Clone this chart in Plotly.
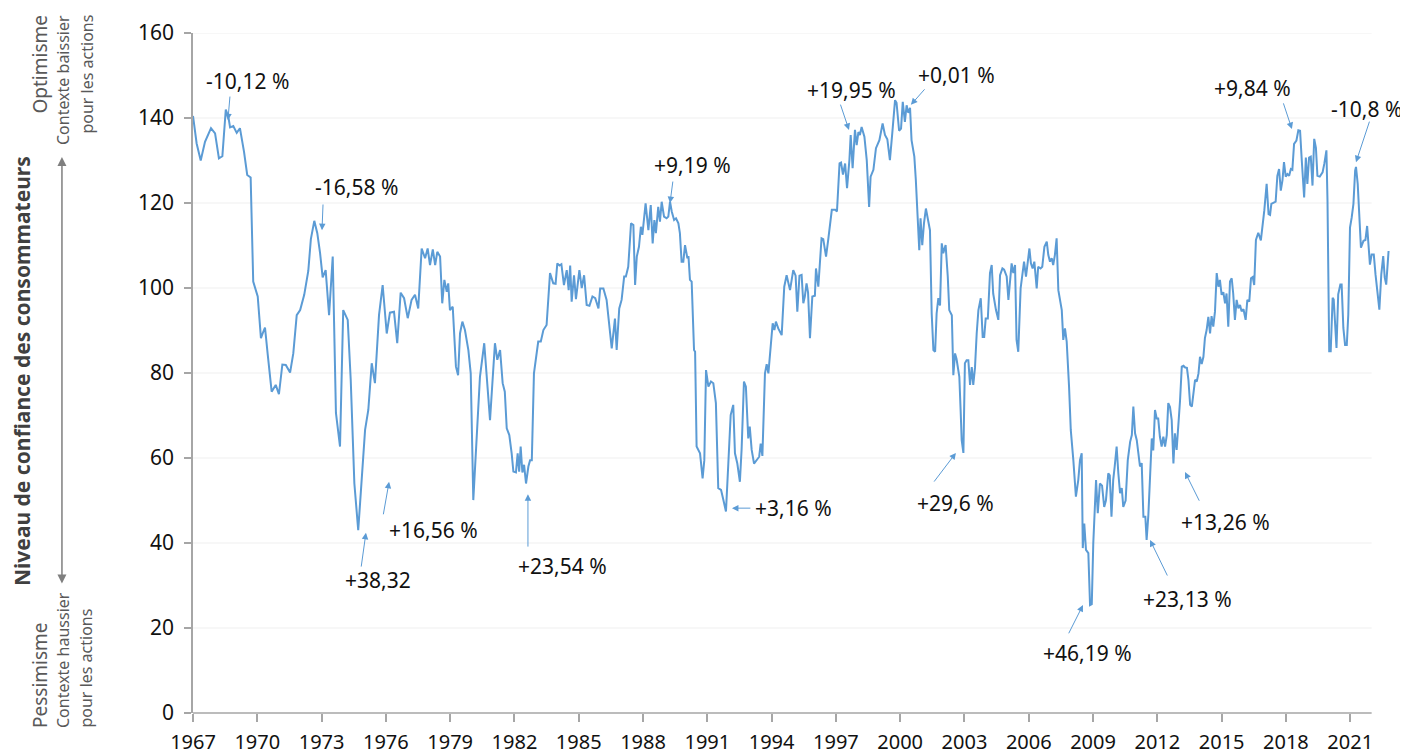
import plotly.graph_objects as go

# ---------------- data ----------------
years = [
    1967.00,1967.17,1967.36,1967.56,1967.84,1968.03,1968.21,1968.37,1968.53,1968.65,
    1968.73,1968.88,1969.04,1969.19,1969.38,1969.53,1969.69,1969.81,1970.02,1970.17,
    1970.28,1970.36,1970.49,1970.67,1970.86,1971.01,1971.17,1971.33,1971.53,1971.68,
    1971.84,1972.00,1972.19,1972.38,1972.50,1972.66,1972.80,1972.93,1973.05,1973.19,
    1973.35,1973.52,1973.67,1973.86,1974.01,1974.22,1974.36,1974.53,1974.71,1974.87,
    1975.03,1975.18,1975.34,1975.49,1975.68,1975.85,1976.04,1976.19,1976.38,1976.53,
    1976.69,1976.85,1977.02,1977.20,1977.36,1977.51,1977.67,1977.83,1977.95,1978.06,
    1978.19,1978.30,1978.40,1978.53,1978.63,1978.73,1978.84,1978.91,1978.99,1979.12,
    1979.27,1979.37,1979.46,1979.57,1979.69,1979.85,1979.96,1980.08,1980.24,1980.39,
    1980.59,1980.70,1980.86,1980.97,1981.09,1981.20,1981.33,1981.45,1981.55,1981.64,
    1981.76,1981.87,1981.95,1982.07,1982.15,1982.22,1982.29,1982.37,1982.45,1982.54,
    1982.65,1982.73,1982.81,1982.91,1983.00,1983.11,1983.23,1983.35,1983.50,1983.66,
    1983.81,1983.92,1984.00,1984.10,1984.19,1984.31,1984.44,1984.53,1984.60,1984.67,
    1984.78,1984.87,1985.03,1985.14,1985.25,1985.37,1985.50,1985.64,1985.77,1985.92,
    1986.00,1986.15,1986.30,1986.41,1986.54,1986.69,1986.77,1986.89,1987.00,1987.12,
    1987.20,1987.31,1987.44,1987.55,1987.63,1987.71,1987.81,1987.90,1987.97,1988.12,
    1988.25,1988.36,1988.45,1988.53,1988.60,1988.71,1988.79,1988.87,1988.98,1989.10,
    1989.18,1989.26,1989.34,1989.45,1989.54,1989.65,1989.72,1989.80,1989.88,1989.96,
    1990.07,1990.12,1990.19,1990.27,1990.38,1990.43,1990.50,1990.66,1990.78,1990.86,
    1990.94,1991.05,1991.17,1991.28,1991.40,1991.51,1991.64,1991.75,1991.87,1991.98,
    1992.09,1992.21,1992.29,1992.40,1992.52,1992.60,1992.71,1992.80,1992.91,1992.98,
    1993.07,1993.18,1993.30,1993.42,1993.49,1993.57,1993.69,1993.77,1993.85,1993.92,
    1994.05,1994.13,1994.20,1994.31,1994.47,1994.59,1994.70,1994.86,1995.01,1995.12,
    1995.20,1995.30,1995.40,1995.48,1995.55,1995.63,1995.70,1995.79,1995.90,1996.02,
    1996.07,1996.18,1996.33,1996.41,1996.54,1996.65,1996.81,1996.97,1997.05,1997.17,
    1997.24,1997.33,1997.43,1997.52,1997.63,1997.69,1997.78,1997.89,1997.97,1998.05,
    1998.12,1998.20,1998.33,1998.44,1998.55,1998.62,1998.75,1998.87,1999.03,1999.18,
    1999.29,1999.40,1999.52,1999.63,1999.76,1999.83,1999.95,2000.04,2000.12,2000.22,
    2000.30,2000.38,2000.46,2000.53,2000.66,2000.73,2000.82,2000.89,2000.95,2001.03,
    2001.11,2001.20,2001.30,2001.39,2001.47,2001.55,2001.63,2001.70,2001.78,2001.86,
    2001.94,2002.01,2002.12,2002.22,2002.29,2002.41,2002.48,2002.56,2002.63,2002.76,
    2002.82,2002.87,2002.95,2003.02,2003.10,2003.18,2003.26,2003.34,2003.41,2003.49,
    2003.57,2003.65,2003.76,2003.85,2003.92,2003.99,2004.09,2004.19,2004.27,2004.34,
    2004.47,2004.58,2004.66,2004.77,2004.85,2004.97,2005.05,2005.13,2005.20,2005.28,
    2005.36,2005.43,2005.51,2005.62,2005.72,2005.78,2005.87,2005.95,2006.03,2006.10,
    2006.18,2006.26,2006.37,2006.44,2006.55,2006.63,2006.73,2006.84,2006.91,2006.99,
    2007.07,2007.14,2007.22,2007.30,2007.38,2007.54,2007.61,2007.69,2007.77,2007.88,
    2007.96,2008.08,2008.20,2008.31,2008.39,2008.47,2008.52,2008.59,2008.67,2008.78,
    2008.86,2008.94,2009.01,2009.14,2009.22,2009.32,2009.42,2009.52,2009.60,2009.71,
    2009.78,2009.86,2009.94,2010.01,2010.10,2010.18,2010.26,2010.34,2010.41,2010.52,
    2010.62,2010.73,2010.81,2010.88,2010.96,2011.04,2011.11,2011.19,2011.27,2011.35,
    2011.44,2011.50,2011.58,2011.66,2011.74,2011.81,2011.89,2011.97,2012.04,2012.12,
    2012.20,2012.28,2012.36,2012.44,2012.51,2012.59,2012.67,2012.75,2012.82,2012.90,
    2012.98,2013.06,2013.14,2013.22,2013.30,2013.38,2013.45,2013.53,2013.61,2013.68,
    2013.76,2013.84,2013.92,2013.99,2014.07,2014.15,2014.22,2014.30,2014.38,2014.46,
    2014.53,2014.61,2014.69,2014.77,2014.85,2014.92,2015.00,2015.08,2015.16,2015.23,
    2015.31,2015.39,2015.47,2015.54,2015.62,2015.70,2015.78,2015.86,2015.93,2016.02,
    2016.12,2016.20,2016.29,2016.37,2016.45,2016.52,2016.60,2016.71,2016.83,2016.99,
    2017.10,2017.19,2017.26,2017.32,2017.44,2017.52,2017.60,2017.68,2017.76,2017.84,
    2017.91,2017.99,2018.07,2018.15,2018.23,2018.30,2018.38,2018.49,2018.58,2018.66,
    2018.74,2018.85,2018.93,2019.00,2019.08,2019.16,2019.24,2019.32,2019.40,2019.47,
    2019.58,2019.71,2019.79,2019.89,2019.94,2020.02,2020.09,2020.18,2020.23,2020.29,
    2020.36,2020.44,2020.54,2020.60,2020.68,2020.76,2020.84,2020.91,2020.99,2021.07,
    2021.15,2021.23,2021.27,2021.35,2021.43,2021.50,2021.62,2021.71,2021.79,2021.85,
    2021.92,2022.00,2022.10,2022.18,2022.29,2022.36,2022.45,2022.54,2022.61,2022.68,
    2022.79,
]

confidence = [
    140.5,134,130,134.4,137.6,136.4,130.5,131,142,140.3,
    137.8,138.1,136.5,137.6,132.1,126.6,126,101.5,98,88.2,
    89.7,90.7,84.2,75.6,77.2,75,82,81.9,80.1,84.6,
    93.6,94.8,98.4,104,111.5,115.8,112.9,108.2,102.5,104.2,
    93.6,107.4,70.6,62.7,94.8,92.5,78.4,54,43,54,
    66.6,71.3,82.3,77.6,93.6,100.7,89.3,94.2,94.4,87,
    98.9,97.6,92.9,97.2,98.4,95.2,109.3,107,109.3,105.4,
    109.1,105.4,108.5,107.4,96.4,101.9,99.1,101.1,94.8,95.6,
    81.5,79.5,89.3,92.1,90.1,85.4,79.9,50.1,65,79.1,
    87,79.9,68.9,77.6,87,83.1,85.4,77.6,75.6,67,
    65.4,61.1,56.8,56.6,61.1,56.8,62.7,56.6,58.4,54,
    58,59.5,59.5,79.9,83,87.4,87.4,90.1,91.3,103.5,
    101.1,101,105.8,105.3,105.6,100.7,104.2,99.5,105.3,96.8,
    103,97.4,104.2,100,103,96,95.8,98,97.6,95.2,
    99.9,99.9,97.2,91.7,85.8,92.8,85.4,95.2,97.2,102.7,
    102.7,105,115.2,114.8,100.7,107.4,109.7,114.4,112.5,119.9,
    113.6,119.5,110.5,116,112.9,119.1,115.6,120.3,116.8,116.4,
    116.8,120.3,118,116,116.4,115.2,112.9,106.2,106.2,110.1,
    107,107.5,101.9,101.5,85.4,85,62.7,61.1,55.2,59.5,
    80.7,76.8,78,77.6,72.9,52.9,52.5,50.1,47.4,58.7,
    70.1,72.5,61.1,58.7,54.4,62,78,76.8,64.6,67.4,
    61.9,58.7,59.5,60.3,63.4,60.5,79.9,82.1,79.9,84.6,
    91.7,90.1,92.1,90.5,88.9,100.3,103,99.5,104.2,102.9,
    94.4,102.9,103.1,96.4,98,101.1,99,88.2,98,98.2,
    104.6,100.3,111.7,111.5,107.4,111.7,118.4,118.4,118,129.3,
    129.5,126.7,129.3,123.5,130.1,136,128.2,137.2,133.6,136.7,
    136,137.9,135.6,130.1,119.1,126.2,127.8,132.9,134.8,138.7,
    136,135,130.1,136.4,144.2,143.6,137,137.5,143.8,139.1,
    143,141.2,142.4,134.8,130.9,125.4,116,108.9,116.4,110.1,
    115.2,118.7,116,113.6,94,85.4,85,94,97.6,95.9,
    110.5,108.2,110.1,102.7,94.8,93.6,79.5,84.6,83.3,79.1,
    71.3,64.2,61.2,82.3,83,83,77.2,81.4,77.2,81.2,
    89.3,94.8,97.6,88.5,88.5,92.8,92.8,103.5,105.4,98.7,
    94.8,92.5,103,104.6,104.3,102.7,97.2,101.5,105.8,103.5,
    105.4,87.8,85,99.9,104.6,106.2,102.7,106.2,109.3,105.8,
    104.6,106.2,99.9,105,104.6,105,109.7,110.9,107.8,106.2,
    107,105.4,107.8,111.7,99.5,94.8,87.8,90.5,87.4,76.8,
    66.6,59.5,50.9,54.8,59.5,61.1,38.8,44.6,38.4,37.6,
    25.4,25.6,39.9,54.8,47,54,53.5,48.5,50,56.4,
    55.9,46.2,54.8,58,62.7,56.4,51.7,52.9,48.5,50,
    59.5,63.8,65.4,72.1,65.8,64.2,61.1,58,58.8,46.2,
    46.2,40.7,46.5,56.4,64.6,61.8,71.3,69.3,69.3,65,
    62.7,65,62.7,65.4,72.9,72,68.9,58.7,65.8,61.9,
    67.4,73.6,81.5,81.7,81.3,81.2,78.4,72.5,72.1,75.2,
    78.4,78,79.9,83.8,82.1,83.8,88.2,90.1,93.2,89.3,
    93.4,90.9,94.5,103.5,100.3,101.9,98.4,99,96.4,98.7,
    90.9,101.5,102.3,98.7,92.5,97.2,95.2,96,94.5,95,
    92.5,97.2,96.8,102.3,102.6,100.7,111.3,113,111.2,118.2,
    124.5,117.4,117.2,119.8,120.1,120.3,126.4,128,122.9,125.4,
    129.6,126.2,126.8,126.4,128,127.8,133.9,134.7,137.1,137,
    130,121.3,130.7,124.5,130.7,130.9,124.1,135.1,133,126.4,
    126.2,127.2,129.2,132.4,120.5,85.1,85.1,97.7,97.3,90.6,
    85.9,98.5,100.8,100.8,90.6,86.6,86.6,93.7,114.2,116.6,
    119.8,127.6,128.5,124.5,115.8,109.5,111.1,111.3,114.6,111.1,
    105.5,107.9,107.9,103.2,97.6,94.9,103.2,107.5,102.5,100.8,
    108.7,
]
assert len(years) == len(confidence), (len(years), len(confidence))

x_ticks = list(range(1967, 2022, 3))
y_ticks = [0, 20, 40, 60, 80, 100, 120, 140, 160]

# annotation labels: text, text position, arrow tail, arrow tip (data coords)
labels = ["-10,12 %", "-16,58 %", "+38,32", "+16,56 %", "+23,54 %", "+9,19 %",
          "+3,16 %", "+19,95 %", "+0,01 %", "+29,6 %", "+46,19 %", "+23,13 %",
          "+13,26 %", "+9,84 %", "-10,8 %"]
label_x = [1969.55, 1974.61, 1975.63, 1978.20, 1984.22, 1990.33, 1995.00, 1997.75,
           2002.65, 2002.56, 2008.72, 2013.43, 2015.16, 2016.42, 2021.76]
label_y = [148.7, 123.8, 31.3, 43.1, 34.6, 128.9, 48.2, 146.6, 150.1, 49.4, 14.1,
           26.8, 44.9, 147.1, 142.1]
tail_x = [1968.73, 1973.07, 1974.84, 1975.87, 1982.63, 1989.40, 1993.08, 1997.19,
          2001.20, 2001.53, 2007.83, 2012.50, 2013.99, 2017.86, 2021.92]
tail_y = [145.4, 120.0, 34.1, 46.4, 38.8, 125.4, 48.2, 143.5, 147.1, 54.1, 18.4,
          32.0, 49.6, 143.8, 139.5]
tip_x = [1968.63, 1973.02, 1975.07, 1976.15, 1982.63, 1989.26, 1992.15, 1997.61,
         2000.50, 2002.60, 2008.53, 2011.66, 2013.29, 2018.28, 2021.27]
tip_y = [139.5, 113.6, 42.4, 54.4, 51.5, 120.0, 48.2, 137.2, 143.1, 61.2, 25.4,
         40.7, 56.7, 137.4, 129.6]

X_START = 1967
X_END = 2022.95
GRID_END = 2022.0

LINE_BLUE = "#5b9bd5"
AXIS_GRAY = "#a6a6a6"
FONT = "Noto Sans"

fig = go.Figure()
fig.add_trace(go.Scatter(
    x=years, y=confidence, mode="lines",
    line=dict(color=LINE_BLUE, width=2),
    hoverinfo="skip", showlegend=False,
))

# gridlines (stop at GRID_END like the reference)
for v in y_ticks[1:]:
    fig.add_shape(type="line", xref="x", yref="y", x0=X_START, x1=GRID_END,
                  y0=v, y1=v, line=dict(color="#efefef", width=1), layer="below")
# x axis line
fig.add_shape(type="line", xref="x", yref="paper", x0=X_START, x1=GRID_END,
              y0=0, y1=0, line=dict(color=AXIS_GRAY, width=1.5), layer="above")

annotations = []
for t, lx, ly in zip(labels, label_x, label_y):
    annotations.append(dict(x=lx, y=ly, xref="x", yref="y", text=t, showarrow=False,
                            font=dict(family=FONT, size=21, color="#111111"),
                            xanchor="center", yanchor="middle"))
for ax_, ay_, tx, ty in zip(tail_x, tail_y, tip_x, tip_y):
    annotations.append(dict(x=tx, y=ty, xref="x", yref="y", ax=ax_, ay=ay_,
                            axref="x", ayref="y", text="", showarrow=True,
                            arrowhead=2, arrowsize=1.3, arrowwidth=1,
                            arrowcolor=LINE_BLUE, standoff=0, startstandoff=0))

SIDE_GRAY = "#595959"
# left side descriptive labels (paper coordinates)
annotations += [
    dict(x=-0.1426, y=0.503, xref="paper", yref="paper",
         text="<b>Niveau de confiance des consommateurs</b>", textangle=-90,
         showarrow=False, font=dict(family=FONT, size=21, color="#404040"),
         xanchor="center", yanchor="middle"),
    dict(x=-0.1276, y=1.0294, xref="paper", yref="paper", text="Optimisme",
         textangle=-90, showarrow=False, font=dict(family=FONT, size=19, color=SIDE_GRAY),
         xanchor="center", yanchor="top"),
    dict(x=-0.1084, y=1.0294, xref="paper", yref="paper", text="Contexte baissier",
         textangle=-90, showarrow=False, font=dict(family=FONT, size=16, color=SIDE_GRAY),
         xanchor="center", yanchor="top"),
    dict(x=-0.0892, y=1.0294, xref="paper", yref="paper", text="pour les actions",
         textangle=-90, showarrow=False, font=dict(family=FONT, size=16, color=SIDE_GRAY),
         xanchor="center", yanchor="top"),
    dict(x=-0.1276, y=-0.025, xref="paper", yref="paper", text="Pessimisme",
         textangle=-90, showarrow=False, font=dict(family=FONT, size=19, color=SIDE_GRAY),
         xanchor="center", yanchor="bottom"),
    dict(x=-0.1084, y=-0.025, xref="paper", yref="paper", text="Contexte haussier",
         textangle=-90, showarrow=False, font=dict(family=FONT, size=16, color=SIDE_GRAY),
         xanchor="center", yanchor="bottom"),
    dict(x=-0.0892, y=-0.025, xref="paper", yref="paper", text="pour les actions",
         textangle=-90, showarrow=False, font=dict(family=FONT, size=16, color=SIDE_GRAY),
         xanchor="center", yanchor="bottom"),
    # double-headed gray arrow
    dict(x=-0.1093, y=0.8176, xref="paper", yref="paper", ax=0, ay=428,
         axref="pixel", ayref="pixel", text="", showarrow=True,
         arrowhead=2, startarrowhead=2, arrowside="end+start",
         arrowsize=1.2, startarrowsize=1.2, arrowwidth=1.5,
         arrowcolor="#7f7f7f", standoff=0, startstandoff=0),
]

# the page body has an 8px margin: the figure is sized/offset to compensate
fig.update_layout(
    width=1400, height=748,
    margin=dict(l=185, r=16, t=25, b=43, autoexpand=False),
    paper_bgcolor="white", plot_bgcolor="white",
    showlegend=False,
    annotations=annotations,
    xaxis=dict(
        range=[X_START, X_END], tickmode="array", tickvals=x_ticks,
        ticktext=[str(v) for v in x_ticks],
        showgrid=False, zeroline=False, showline=False, automargin=False,
        ticks="outside", ticklen=8, tickwidth=1.5, tickcolor=AXIS_GRAY,
        tickfont=dict(family=FONT, size=20, color="#111111"),
        ticklabelstandoff=3,
    ),
    yaxis=dict(
        range=[0, 160], tickmode="array", tickvals=y_ticks,
        showgrid=False, zeroline=False, showline=True, automargin=False,
        linecolor=AXIS_GRAY, linewidth=1.5,
        ticks="outside", ticklen=7, tickwidth=1.5, tickcolor=AXIS_GRAY,
        tickfont=dict(family=FONT, size=21, color="#111111"),
        ticklabelstandoff=6,
    ),
)

fig.write_html("out.html")
